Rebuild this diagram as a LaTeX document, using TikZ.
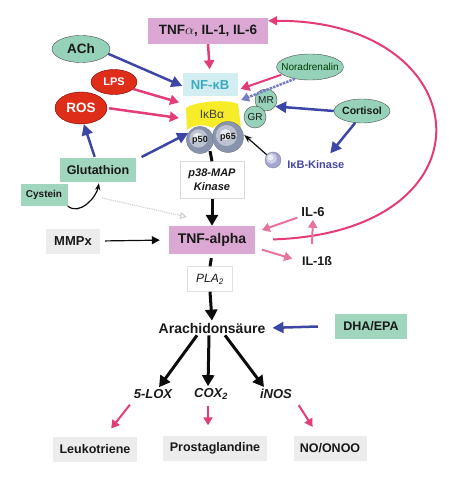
\documentclass[tikz,border=0pt]{standalone}
\usepackage{fontspec}
\setmainfont{Liberation Sans}
\usetikzlibrary{arrows.meta}
\usetikzlibrary{positioning}
\usetikzlibrary{shapes.geometric}
\newcommand\fsz[1]{\fontsize{#1}{#1}\selectfont}
\definecolor{tnfpink}{RGB}{218,168,210}
\definecolor{mint}{RGB}{160,214,190}
\definecolor{greybox}{RGB}{236,236,236}
\definecolor{nfbg}{RGB}{210,238,242}
\definecolor{nftxt}{RGB}{60,170,190}
\definecolor{rosred}{RGB}{222,45,25}
\definecolor{arrpink}{RGB}{228,60,120}
\definecolor{lightpink}{RGB}{232,115,155}
\definecolor{arrblue}{RGB}{60,70,165}
\definecolor{kinblue}{RGB}{70,70,160}
\definecolor{ikbyellow}{RGB}{246,236,40}
\definecolor{ovalgreen}{RGB}{150,210,185}
\definecolor{ballgrey}{RGB}{135,148,172}
\definecolor{kinball}{RGB}{165,165,210}
\definecolor{arrblack}{RGB}{12,12,12}
\begin{document}
\begin{tikzpicture}[x=1pt,y=-1pt,
  every node/.style={inner sep=2pt,text=black!90},
  box/.style={fill=#1,minimum height=25pt,font=\bfseries\fsz{12.5}},
  oval/.style={ellipse,draw=black!70,fill=ovalgreen,inner sep=0pt},
  redoval/.style={ellipse,draw=red!50!black,fill=rosred,inner sep=0pt,text=white},
  ball/.style={circle,draw=#1!80!black,fill=#1,inner sep=0pt,
    path picture={\fill[#1!55!white] ([shift={(-1.5pt,1.5pt)}]path picture bounding box.center) circle (0.34*\pgfkeysvalueof{/pgf/minimum width});
      \fill[#1!20!white] ([shift={(-2.5pt,2.5pt)}]path picture bounding box.center) circle (0.18*\pgfkeysvalueof{/pgf/minimum width});}},
  rec/.style={circle,draw=black!70,fill=ovalgreen,minimum size=22pt,inner sep=0pt,font=\fsz{10}},
  enz/.style={font=\bfseries\itshape\fsz{13}},
  parr/.style={draw=arrpink,line width=2.5pt,-{Triangle[length=9pt,width=10pt]}},
  larr/.style={draw=lightpink,line width=2pt,-{Triangle[length=8pt,width=9pt]}},
  barr/.style={draw=arrblue,line width=2.5pt,-{Triangle[length=11pt,width=11pt]}},
  karr/.style={draw=arrblack,line width=3pt,-{Triangle[length=11pt,width=12pt]}},
  thinarr/.style={draw=arrblack,line width=1.2pt,-{Stealth[length=8pt]}}]
\useasboundingbox (0,0) rectangle (458,484);
\node[box=tnfpink,minimum width=120pt,minimum height=26pt,font=\bfseries\fsz{13.5}] (tnf) at (208,31) {TNF$\alpha$, IL-1, IL-6};
\node[fill=nfbg,minimum width=55pt,minimum height=23pt,text=nftxt,font=\bfseries\fsz{13}] (nfkb) at (210,85) {NF-κB};
\fill[ikbyellow] (186,108) .. controls (196,101) and (228,99) .. (238,104) -- (241,127) .. controls (232,122) and (218,122) .. (213,128) .. controls (205,124) and (194,124) .. (187,130) -- cycle;
\node[minimum width=54pt,minimum height=26pt,font=\fsz{12},text=black!75] (ikb) at (212,114) {IκBα};
\node[ball=ballgrey,minimum size=27pt,font=\bfseries\fsz{9}] (p50) at (200,140) {p50};
\node[ball=ballgrey,minimum size=31pt,font=\bfseries\fsz{9}] (p65) at (228,137) {p65};
\node[rec] (mr) at (266,100) {MR};
\node[rec] (gr) at (255,117) {GR};
\node[oval,minimum height=26pt,inner xsep=-5pt,font=\fsz{10},text=black!60!green!60!black] (nor) at (310,67) {Noradrenalin};
\node[oval,minimum width=56pt,minimum height=24pt,font=\bfseries\fsz{10.5}] (cort) at (362,111) {Cortisol};
\node[ball=kinball,minimum size=16pt] (kin) at (273,160) {};
\node[right=4pt of kin,yshift=-5pt,text=kinblue,font=\bfseries\fsz{11}] (kintext) {IκB-Kinase};
\node[oval,minimum width=58pt,minimum height=27pt,font=\bfseries\fsz{13.5}] (ach) at (81,49) {ACh};
\node[redoval,minimum width=46pt,minimum height=25pt,font=\bfseries\fsz{11}] (lps) at (114,82) {LPS};
\node[redoval,minimum width=52pt,minimum height=32pt,font=\bfseries\fsz{13.5}] (ros) at (81,108) {ROS};
\node[box=mint,minimum width=76pt,minimum height=24pt] (glu) at (98,170) {Glutathion};
\node[box=mint,minimum width=47pt,minimum height=22pt,font=\bfseries\fsz{10}] (cys) at (44,195) {Cystein};
\node[draw=black!15,fill=white,minimum width=64pt,minimum height=37pt,align=center,font=\bfseries\itshape\fontsize{11}{14}\selectfont] (p38) at (212,180) {p38-MAP\\Kinase};
\node[box=greybox,minimum width=54pt,font=\bfseries\fsz{13}] (mmp) at (73,241) {MMPx};
\node[box=tnfpink,minimum width=86pt,minimum height=28pt,font=\bfseries\fsz{14}] (tnfa) at (212,240) {TNF-alpha};
\node[font=\bfseries\fsz{13}] (il6) at (313,212) {IL-6};
\node[font=\bfseries\fsz{12.5}] (il1) at (317,261) {IL-1ß};
\node[draw=black!12,fill=white,minimum width=45pt,minimum height=25pt,font=\itshape\fsz{12}] (pla) at (210,279) {PLA\textsubscript{2}};
\node[font=\bfseries\fsz{14}] (ara) at (212,328) {Arachidonsäure};
\node[box=mint,minimum width=72pt] (dha) at (371,326) {DHA/EPA};
\node[enz] (lox) at (153,394) {5-LOX};
\node[enz] (cox) at (211,394) {COX\textsubscript{2}};
\node[enz] (inos) at (276,394) {iNOS};
\node[box=greybox,minimum width=84pt] (leu) at (95,449) {Leukotriene};
\node[box=greybox,minimum width=104pt] (pro) at (215,448) {Prostaglandine};
\node[box=greybox,minimum width=73pt] (noo) at (330,448) {NO/ONOO};
\coordinate (ballfoot) at (210,151);
\coordinate (arcfoot) at (312,244);
\coordinate (fadeA) at (102,198);
\coordinate (fadeB) at (187,217);
\draw[thinarr,shorten >=1pt] (kin.140) -- (p65.10);
\draw[parr,shorten >=4pt] (tnf.south) -- (nfkb.north);
\draw[barr] (ach.-10) -- ([yshift=-1pt]nfkb.west);
\draw[parr,shorten >=6pt] (lps.-20) -- (ikb.160);
\draw[parr,shorten <=2pt,shorten >=6pt] (ros.east) -- (ikb.190);
\draw[barr,shorten <=6pt] (glu.15) -- (p50.150);
\draw[barr,shorten <=1pt] ([xshift=-3pt]glu.north) -- (ros.-80);
\draw[thinarr,-{Stealth[length=7pt]},shorten >=1pt] (cys.-25) to[out=-40,in=-100] (glu.-85);
\draw[black!18,densely dotted,line width=1.2pt,-{Triangle[open,length=7pt,width=7pt]}] (fadeA) -- (fadeB);
\draw[parr,line width=2pt,shorten <=1pt,shorten >=3pt] (nor.195) -- (nfkb.-10);
\draw[arrblue!70,densely dotted,line width=2.5pt,-{Triangle[length=8pt,width=9pt]},shorten >=2pt] (nor.218) -- (ikb.north east);
\draw[barr] (cort.west) -- (mr.-35);
\draw[barr,shorten >=7pt] (cort.240) -- ([xshift=10pt]kintext.north);
\draw[draw=arrblack,line width=3pt] (ballfoot) -- (p38.north);
\draw[karr] (p38.south) -- (tnfa.north);
\draw[thinarr,-{Triangle[length=8pt,width=8pt]},shorten <=5pt,shorten >=9pt] (mmp.east) -- (tnfa.west);
\draw[arrpink,line width=2pt,-{Triangle[length=9pt,width=9pt]},shorten <=18pt] (tnfa.east) .. controls (500,232) and (480,20) .. ([yshift=-3pt]tnf.north east);
\draw[larr,shorten <=2pt,shorten >=7pt] (il6.200) -- (tnfa.10);
\draw[larr,shorten >=1pt] (arcfoot) -- (il6.south);
\draw[larr,shorten <=7pt,shorten >=8pt] (tnfa.-10) -- (il1.west);
\draw[draw=arrblack,line width=3pt,shorten <=4pt] (tnfa.south) -- (pla.north);
\draw[karr] (pla.south) -- (ara.north);
\draw[barr,shorten <=17pt,shorten >=5pt] (dha.west) -- (ara.east);
\draw[karr] ([xshift=-15pt]ara.south) -- ([xshift=6pt]lox.north);
\draw[karr] ([xshift=-3pt]ara.south) -- ([xshift=-3pt]cox.north);
\draw[karr] ([xshift=13pt]ara.south) -- ([xshift=-12pt]inos.north);
\draw[larr,draw=arrpink,shorten <=5pt,shorten >=10pt] ([xshift=-20pt]lox.south) -- ([xshift=10pt]leu.north);
\draw[larr,draw=arrpink,shorten <=4pt,shorten >=10pt] ([xshift=-3pt]cox.south) -- ([xshift=-7pt]pro.north);
\draw[larr,draw=arrpink,shorten <=5pt,shorten >=10pt] ([xshift=20pt]inos.south) -- ([xshift=-12pt]noo.north);
\end{tikzpicture}
\end{document}
